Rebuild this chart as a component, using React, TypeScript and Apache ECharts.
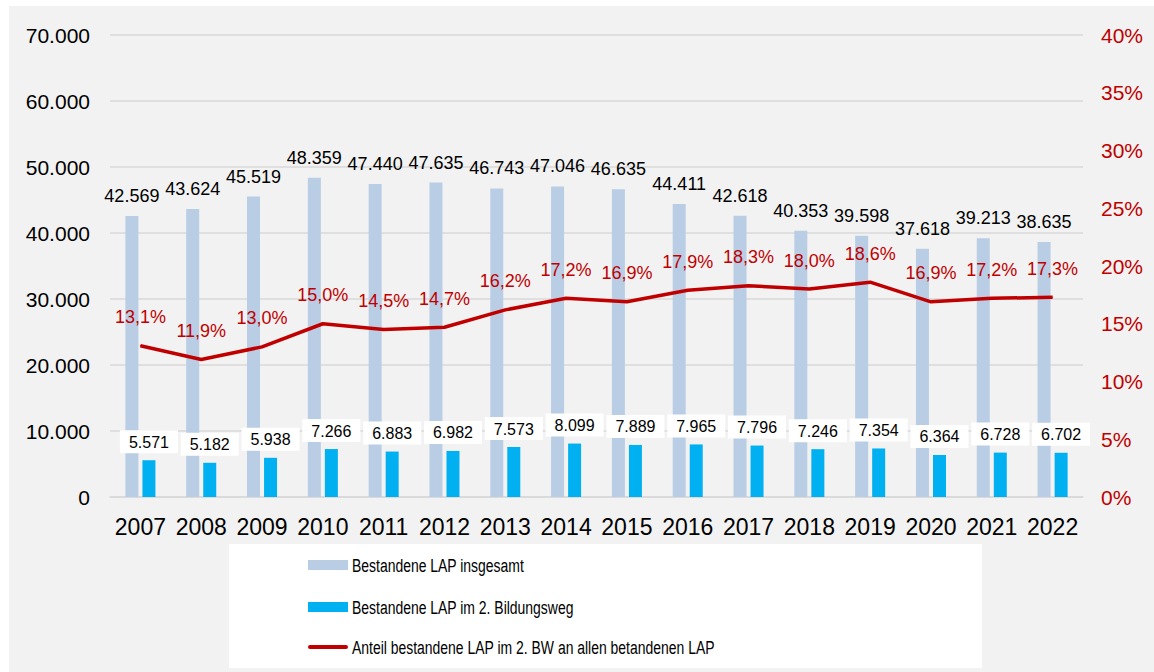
import React, { useEffect, useRef } from "react";
import * as echarts from "echarts";

const years = ["2007", "2008", "2009", "2010", "2011", "2012", "2013", "2014", "2015", "2016", "2017", "2018", "2019", "2020", "2021", "2022"];
const totalPassed = [42569, 43624, 45519, 48359, 47440, 47635, 46743, 47046, 46635, 44411, 42618, 40353, 39598, 37618, 39213, 38635];
const secondPath = [5571, 5182, 5938, 7266, 6883, 6982, 7573, 8099, 7889, 7965, 7796, 7246, 7354, 6364, 6728, 6702];
const sharePct = [13.1, 11.9, 13.0, 15.0, 14.5, 14.7, 16.2, 17.2, 16.9, 17.9, 18.3, 18.0, 18.6, 16.9, 17.2, 17.3];

const seriesNames = [
  "Bestandene LAP insgesamt",
  "Bestandene LAP im 2. Bildungsweg",
  "Anteil bestandene LAP im 2. BW an allen betandenen LAP",
];

const FONT = "'Liberation Sans', Arial, sans-serif";
const RED = "#c00000";
const LIGHT = "#b9cde5";
const CYAN = "#00b0f0";

const fmtThousands = (v: number) => String(Math.round(v)).replace(/\B(?=(\d{3})+(?!\d))/g, ".");
const fmtPct = (v: number) => v.toFixed(1).replace(".", ",") + "%";

export default function App() {
  const ref = useRef<HTMLDivElement>(null);
  useEffect(() => {
    if (!ref.current) return;
    const chart = echarts.init(ref.current, null, { renderer: "svg" });
    const legendRows = [565, 607, 647];
    const legendText = (i: number) => ({
      type: "text",
      x: 352,
      y: legendRows[i],
      scaleX: 0.775,
      silent: true,
      style: {
        text: seriesNames[i],
        fill: "#000",
        font: "18px 'Liberation Sans', Arial, sans-serif",
        textVerticalAlign: "middle",
        textAlign: "left",
      },
    });
    chart.setOption({
      animation: false,
      backgroundColor: "#ffffff",
      textStyle: { fontFamily: FONT },
      graphic: [
        { type: "rect", z: -10, silent: true, shape: { x: 9, y: 6, width: 1145, height: 666 }, style: { fill: "#f2f2f2" } },
        { type: "rect", z: -9, silent: true, shape: { x: 229, y: 544, width: 753, height: 124 }, style: { fill: "#ffffff" } },
        { type: "rect", silent: true, shape: { x: 308, y: legendRows[0] - 5, width: 40, height: 10 }, style: { fill: LIGHT } },
        legendText(0),
        { type: "rect", silent: true, shape: { x: 308, y: legendRows[1] - 5, width: 40, height: 10 }, style: { fill: CYAN } },
        legendText(1),
        { type: "line", silent: true, shape: { x1: 310, y1: legendRows[2], x2: 346, y2: legendRows[2] }, style: { stroke: RED, lineWidth: 4, lineCap: "round" } },
        legendText(2),
      ],
      grid: { left: 110, right: 71, top: 35, bottom: 175, containLabel: false },
      legend: { show: false, data: seriesNames },
      xAxis: {
        type: "category",
        data: years,
        axisLine: { lineStyle: { color: "#d9d9d9", width: 1.5 } },
        axisTick: { show: false },
        axisLabel: { color: "#000", fontSize: 23, margin: 18, interval: 0, fontFamily: FONT },
      },
      yAxis: [
        {
          type: "value",
          min: 0,
          max: 70000,
          interval: 10000,
          axisLine: { show: false },
          axisTick: { show: false },
          splitLine: { lineStyle: { color: "#d9d9d9", width: 1.5 } },
          axisLabel: { color: "#000", fontSize: 21, margin: 20, fontFamily: FONT, formatter: (v: number) => fmtThousands(v) },
        },
        {
          type: "value",
          min: 0,
          max: 40,
          interval: 5,
          axisLine: { show: false },
          axisTick: { show: false },
          splitLine: { show: false },
          axisLabel: { color: RED, fontSize: 21, margin: 18, fontFamily: FONT, formatter: (v: number) => `${v}%` },
        },
      ],
      series: [
        {
          name: seriesNames[0],
          type: "bar",
          data: totalPassed,
          barWidth: 13,
          barGap: "31%",
          itemStyle: { color: LIGHT },
          label: {
            show: true,
            position: "top",
            distance: 11,
            color: "#000",
            fontSize: 18,
            fontFamily: FONT,
            formatter: (p: any) => fmtThousands(p.value),
          },
        },
        {
          name: seriesNames[1],
          type: "bar",
          data: secondPath,
          barWidth: 13,
          itemStyle: { color: CYAN },
          label: {
            show: true,
            position: "top",
            distance: 7,
            color: "#000",
            fontSize: 16,
            fontFamily: FONT,
            backgroundColor: "#ffffff",
            padding: [4, 9, 3, 9],
            formatter: (p: any) => fmtThousands(p.value),
          },
        },
        {
          name: seriesNames[2],
          type: "line",
          yAxisIndex: 1,
          data: sharePct,
          symbol: "circle",
          symbolSize: 1,
          showSymbol: true,
          z: 5,
          lineStyle: { color: RED, width: 3.5 },
          itemStyle: { color: RED },
          label: {
            show: true,
            position: "top",
            distance: 19,
            color: RED,
            fontSize: 18,
            fontFamily: FONT,
            formatter: (p: any) => fmtPct(p.value),
          },
        },
      ],
    });
    return () => chart.dispose();
  }, []);
  return <div ref={ref} style={{ position: "fixed", left: 0, top: 0, width: 1154, height: 672 }} />;
}
